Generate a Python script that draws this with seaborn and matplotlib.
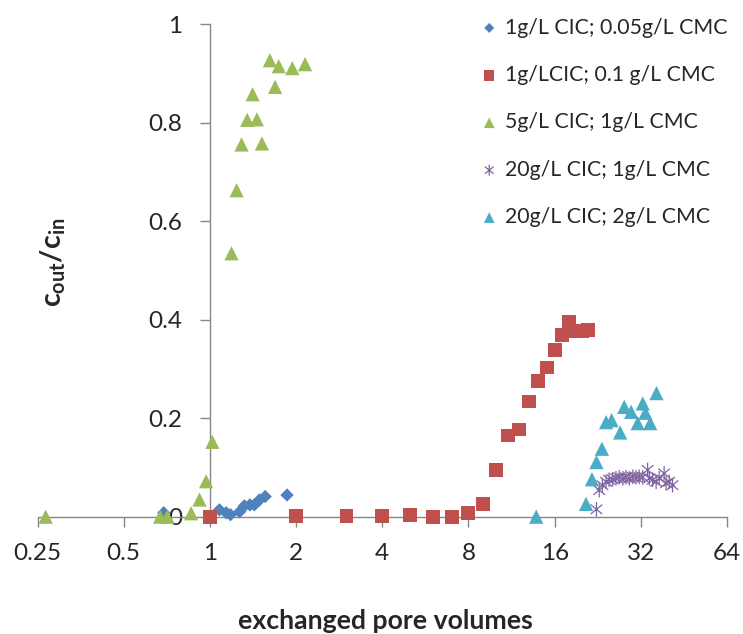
import numpy as np
import pandas as pd
import matplotlib
matplotlib.use("Agg")
import matplotlib.pyplot as plt
from matplotlib.path import Path
from matplotlib.markers import MarkerStyle
from matplotlib.ticker import FixedLocator, FixedFormatter
import seaborn as sns

# ---------------- data ----------------
labels = ["1g/L CIC; 0.05g/L CMC", "1g/LCIC; 0.1 g/L CMC", "5g/L CIC; 1g/L CMC",
          "20g/L CIC; 1g/L CMC", "20g/L CIC; 2g/L CMC"]

blue_x = [0.69, 1.08, 1.14, 1.18, 1.27, 1.32, 1.38, 1.43, 1.49, 1.56, 1.86]
blue_y = [0.008, 0.014, 0.008, 0.004, 0.010, 0.022, 0.024, 0.024, 0.034, 0.041, 0.044]

red_x = [1, 2, 3, 4, 5, 6, 7, 8, 9, 10, 11, 12, 13, 14, 15, 16, 17, 18, 19, 20, 21]
red_y = [0.0, 0.002, 0.002, 0.002, 0.003, 0.0, 0.0, 0.008, 0.026, 0.095, 0.165,
         0.177, 0.234, 0.275, 0.303, 0.339, 0.369, 0.396, 0.378, 0.378, 0.380]

green_x = [0.267, 0.67, 0.71, 0.86, 0.92, 0.97, 1.02, 1.19, 1.24, 1.29, 1.35, 1.41,
           1.46, 1.52, 1.62, 1.69, 1.74, 1.94, 2.15]
green_y = [0.0, 0.0, 0.0, 0.007, 0.035, 0.072, 0.152, 0.535, 0.663, 0.756, 0.806,
           0.858, 0.807, 0.758, 0.927, 0.873, 0.915, 0.911, 0.919]

purple_x = [22.4, 22.9, 23.5, 24.2, 24.8, 25.5, 26.2, 26.9, 27.7, 28.4, 29.2, 30.0,
            30.8, 31.6, 32.5, 33.8, 34.3, 35.2, 36.2, 37.1, 38.6, 39.2, 40.2, 41.3]
purple_y = [0.015, 0.054, 0.064, 0.071, 0.075, 0.076, 0.078, 0.080, 0.078, 0.080,
            0.078, 0.081, 0.080, 0.081, 0.080, 0.095, 0.078, 0.075, 0.071, 0.078,
            0.088, 0.068, 0.071, 0.064]

cyan_x = [13.8, 20.6, 21.6, 22.4, 23.4, 24.2, 25.3, 27.1, 28.0, 29.6, 31.2, 32.5,
          33.2, 34.5, 36.3]
cyan_y = [0.0, 0.026, 0.076, 0.111, 0.138, 0.192, 0.196, 0.171, 0.223, 0.213,
          0.190, 0.230, 0.211, 0.190, 0.251]

x_ticks = [0.25, 0.5, 1, 2, 4, 8, 16, 32, 64]
x_tick_labels = ["0.25", "0.5", "1", "2", "4", "8", "16", "32", "64"]
y_ticks = [0, 0.2, 0.4, 0.6, 0.8, 1.0]
y_tick_labels = ["0", "0.2", "0.4", "0.6", "0.8", "1"]

colors = ["#4F81BD", "#C0504D", "#9BBB59", "#8064A2", "#4BACC6"]

# ---------------- styling ----------------
sns.set_style("white")
plt.rcParams["font.family"] = ["Lato", "DejaVu Sans"]
plt.rcParams["mathtext.fontset"] = "custom"
plt.rcParams["mathtext.rm"] = "Lato"
plt.rcParams["mathtext.bf"] = "Lato:bold"
plt.rcParams["mathtext.it"] = "Lato:italic"

W, H = 743, 634
fig = plt.figure(figsize=(W / 100, H / 100), dpi=100)
x0, x1, ytop, ybot = 37.5, 727.0, 24.3, 516.7
ax = fig.add_axes([x0 / W, 1 - ybot / H, (x1 - x0) / W, (ybot - ytop) / H])

# asterisk marker (vertical bar + X)
star_path = Path([(0, -1), (0, 1), (-0.8, -0.65), (0.8, 0.65), (-0.8, 0.65), (0.8, -0.65)],
                 [Path.MOVETO, Path.LINETO, Path.MOVETO, Path.LINETO, Path.MOVETO, Path.LINETO])
star_marker = MarkerStyle(star_path, fillstyle="none")

series = [
    (blue_x, blue_y, "D", 46, labels[0], colors[0]),
    (red_x, red_y, "s", 100, labels[1], colors[1]),
    (green_x, green_y, "^", 105, labels[2], colors[2]),
    (purple_x, purple_y, star_marker, 110, labels[3], colors[3]),
    (cyan_x, cyan_y, "^", 105, labels[4], colors[4]),
]

for i, (xs, ys, mk, sz, lab, col) in enumerate(series):
    df = pd.DataFrame({"x": xs, "y": ys})
    kw = dict(data=df, x="x", y="y", marker=mk, s=sz, color=col, label=lab, ax=ax,
              clip_on=False, zorder=3 + i)
    if isinstance(mk, MarkerStyle):
        kw["linewidth"] = 0.9
    else:
        kw["edgecolor"] = "none"
        kw["linewidth"] = 0
    sns.scatterplot(**kw)

ax.set_xscale("log", base=2)
ax.set_xlim(0.25, 64)
ax.set_ylim(0, 1)
ax.xaxis.set_major_locator(FixedLocator(x_ticks))
ax.xaxis.set_major_formatter(FixedFormatter(x_tick_labels))
ax.xaxis.set_minor_locator(FixedLocator([]))
ax.yaxis.set_major_locator(FixedLocator(y_ticks))
ax.yaxis.set_major_formatter(FixedFormatter(y_tick_labels))

spine_col = "#868686"
for s in ["top", "right"]:
    ax.spines[s].set_visible(False)
ax.spines["left"].set_position(("data", 1))
ax.spines["left"].set_color(spine_col)
ax.spines["bottom"].set_color(spine_col)
ax.spines["left"].set_linewidth(1.0)
ax.spines["bottom"].set_linewidth(1.0)

ax.tick_params(axis="x", direction="out", length=7, width=1.0, color=spine_col,
               labelsize=17.5, pad=12, bottom=True)
ax.tick_params(axis="y", direction="out", length=7, width=1.0, color=spine_col,
               labelsize=17.5, pad=13, left=True)

ax.set_xlabel("exchanged pore volumes", fontsize=19.2, fontweight="bold", va="center")
ax.xaxis.set_label_coords(385 / W, 1 - 621 / H, transform=fig.transFigure)
ax.set_ylabel(r"$\mathbf{c_{out}/c_{in}}$", fontsize=20.5, va="center")
ax.yaxis.set_label_coords(53 / W, 1 - 262 / H, transform=fig.transFigure)

leg = ax.legend(loc="upper left", bbox_to_anchor=(480 / W, 1 - 17.5 / H),
                bbox_transform=fig.transFigure, frameon=False, fontsize=15.3,
                handlelength=0.87, handletextpad=0.32, labelspacing=1.29, borderpad=0,
                borderaxespad=0, markerscale=0.75)

fig.savefig("out.png", dpi=100)
